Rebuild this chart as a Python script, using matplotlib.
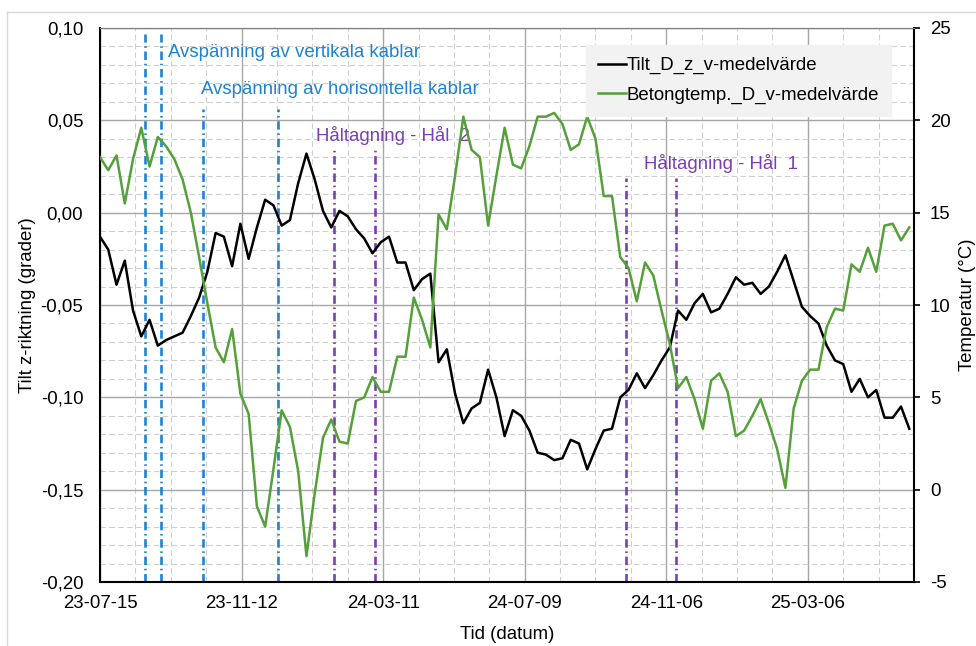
import numpy as np
import pandas as pd
import matplotlib
matplotlib.use("Agg")
import matplotlib.pyplot as plt
import matplotlib.dates as mdates
from matplotlib.ticker import FuncFormatter, MultipleLocator
from matplotlib.lines import Line2D

plt.rcParams['font.family'] = ['Liberation Sans', 'DejaVu Sans']
plt.rcParams['font.size'] = 13.4
plt.rcParams['axes.unicode_minus'] = False

# weekly mean values
start_date = "2023-07-15"
n_weeks = 99

tilt = [-0.013, -0.020, -0.039, -0.026, -0.053, -0.067, -0.058, -0.072, -0.069, -0.067,
        -0.065, -0.056, -0.046, -0.032, -0.011, -0.013, -0.029, -0.006, -0.025, -0.008,
        0.007, 0.004, -0.007, -0.004, 0.016, 0.032, 0.018, 0.001, -0.008, 0.001,
        -0.002, -0.009, -0.014, -0.022, -0.016, -0.013, -0.027, -0.027, -0.042, -0.036,
        -0.033, -0.081, -0.074, -0.098, -0.114, -0.106, -0.103, -0.085, -0.100, -0.121,
        -0.107, -0.110, -0.118, -0.130, -0.131, -0.134, -0.133, -0.123, -0.125, -0.139,
        -0.128, -0.118, -0.117, -0.100, -0.096, -0.087, -0.095, -0.088, -0.080, -0.073,
        -0.053, -0.058, -0.049, -0.044, -0.054, -0.052, -0.044, -0.035, -0.039, -0.038,
        -0.044, -0.040, -0.032, -0.023, -0.037, -0.051, -0.056, -0.060, -0.072, -0.080,
        -0.082, -0.097, -0.090, -0.100, -0.096, -0.111, -0.111, -0.105, -0.117]

temp = [18.0, 17.3, 18.1, 15.5, 17.9, 19.6, 17.5, 19.1, 18.6, 17.9,
        16.8, 15.0, 12.6, 10.1, 7.7, 6.9, 8.7, 5.2, 4.1, -0.9,
        -2.0, 1.1, 4.3, 3.4, 1.0, -3.6, -0.2, 2.8, 3.8, 2.6,
        2.5, 4.8, 5.0, 6.1, 5.3, 5.3, 7.2, 7.2, 10.4, 9.2,
        7.7, 14.9, 14.1, 17.0, 20.2, 18.4, 18.0, 14.3, 17.0, 19.6,
        17.6, 17.4, 18.6, 20.2, 20.2, 20.4, 19.8, 18.4, 18.7, 20.2,
        19.0, 15.9, 15.9, 12.6, 12.0, 10.2, 12.3, 11.6, 9.7, 7.9,
        5.5, 6.1, 4.9, 3.3, 5.9, 6.3, 5.3, 2.9, 3.2, 4.0,
        4.9, 3.6, 2.2, 0.1, 4.4, 5.9, 6.5, 6.5, 8.8, 9.8,
        9.7, 12.2, 11.8, 13.1, 11.8, 14.3, 14.4, 13.5, 14.2]

# events: date, colour group, top of the line in tilt units
event_dates = ["2023-08-22", "2023-09-05", "2023-10-10", "2023-12-13",
               "2024-01-29", "2024-03-04", "2024-10-03", "2024-11-14"]
event_kinds = ["v", "v", "h", "h", "hal2", "hal2", "hal1", "hal1"]
event_tops = [0.097, 0.097, 0.056, 0.056, 0.035, 0.035, 0.019, 0.019]

event_labels = ["Avspänning av vertikala kablar", "Avspänning av horisontella kablar",
                "Håltagning - Hål  2", "Håltagning - Hål  1"]
label_dates = ["2023-09-11", "2023-10-09", "2024-01-14", "2024-10-18"]
label_y = [0.0865, 0.0665, 0.0418, 0.0267]
label_kinds = ["v", "h", "hal2", "hal1"]

BLUE = '#1f82d2'
PURPLE = '#7b3fb5'
kind_color = {"v": BLUE, "h": BLUE, "hal2": PURPLE, "hal1": PURPLE}

dates = pd.date_range(start_date, periods=n_weeks, freq='7D')
major_ticks = pd.date_range(start_date, periods=6, freq='120D')
minor_ticks = pd.date_range(start_date, periods=24, freq='30D')

fig = plt.figure(figsize=(9.76, 6.46), dpi=100)
ax = fig.add_axes([100 / 976, 1 - 582 / 646, 814 / 976, 554 / 646])
ax2 = ax.twinx()

ax.set_xlim(dates[0], dates[-1])
ax.set_ylim(-0.20, 0.10)
ax2.set_ylim(-5, 25)

# grid
ax.set_xticks(major_ticks)
ax.set_xticks(minor_ticks, minor=True)
ax.yaxis.set_major_locator(MultipleLocator(0.05))
ax.yaxis.set_minor_locator(MultipleLocator(0.01))
ax.grid(which='major', color='#a6a6a6', lw=1.0, ls='-', zorder=0)
ax.grid(which='minor', color='#cfcfcf', lw=0.8, ls=(0, (5, 3)), zorder=0)
ax.set_axisbelow(True)

ax.xaxis.set_major_formatter(mdates.DateFormatter('%y-%m-%d'))
ax.yaxis.set_major_formatter(FuncFormatter(lambda v, p: f"{v:.2f}".replace('-0.00', '0.00').replace('.', ',')))
ax2.yaxis.set_major_locator(MultipleLocator(5))

ax.tick_params(axis='both', which='both', length=0)
ax.tick_params(axis='y', pad=12)
ax.tick_params(axis='x', pad=9)
ax2.tick_params(axis='y', which='major', length=4.5, width=1.2, direction='out', pad=7)
ax2.tick_params(axis='y', which='minor', length=0)

for sp in ['left', 'bottom']:
    ax.spines[sp].set_linewidth(1.5)
ax2.spines['right'].set_linewidth(1.5)
ax2.spines['left'].set_visible(False)
ax2.spines['bottom'].set_visible(False)
ax.spines['top'].set_color('#7f7f7f')
ax2.spines['top'].set_color('#7f7f7f')
ax.spines['right'].set_visible(False)

# event lines
for d, k, top in zip(event_dates, event_kinds, event_tops):
    ax.plot([pd.Timestamp(d), pd.Timestamp(d)], [-0.20, top], color=kind_color[k],
            lw=1.9, ls=(0, (3.2, 1.4, 0.6, 1.4)), zorder=2, solid_capstyle='butt')

for txt, d, y, k in zip(event_labels, label_dates, label_y, label_kinds):
    ax.text(pd.Timestamp(d), y, txt, color=kind_color[k], va='center', ha='left', zorder=3)

# series
l1, = ax.plot(dates, tilt, color='black', lw=1.8, zorder=4, label='Tilt_D_z_v-medelvärde')
l2, = ax2.plot(dates, temp, color='#55a03a', lw=1.8, zorder=4, label='Betongtemp._D_v-medelvärde')

ax.set_ylabel('Tilt z-riktning (grader)')
ax2.set_ylabel('Temperatur (°C)')
ax.set_xlabel('Tid (datum)')
ax.yaxis.set_label_coords(-0.079, 0.5)
ax2.yaxis.set_label_coords(1.055, 0.5)
ax.xaxis.set_label_coords(0.5, -0.08)

leg = ax2.legend(handles=[l1, l2], loc='upper right', bbox_to_anchor=(0.972, 0.969),
                 borderaxespad=0, handlelength=1.5, handletextpad=0.05, borderpad=0.65,
                 labelspacing=0.65, fancybox=False, framealpha=1, facecolor='#f2f2f2',
                 edgecolor='#f2f2f2')
leg.set_zorder(10)

# outer chart border (left and top)
fig.add_artist(Line2D([7 / 976, 7 / 976], [0, 1 - 12 / 646], color='#d9d9d9', lw=1))
fig.add_artist(Line2D([7 / 976, 1], [1 - 12 / 646, 1 - 12 / 646], color='#d9d9d9', lw=1))

fig.savefig('out.png', dpi=100)
